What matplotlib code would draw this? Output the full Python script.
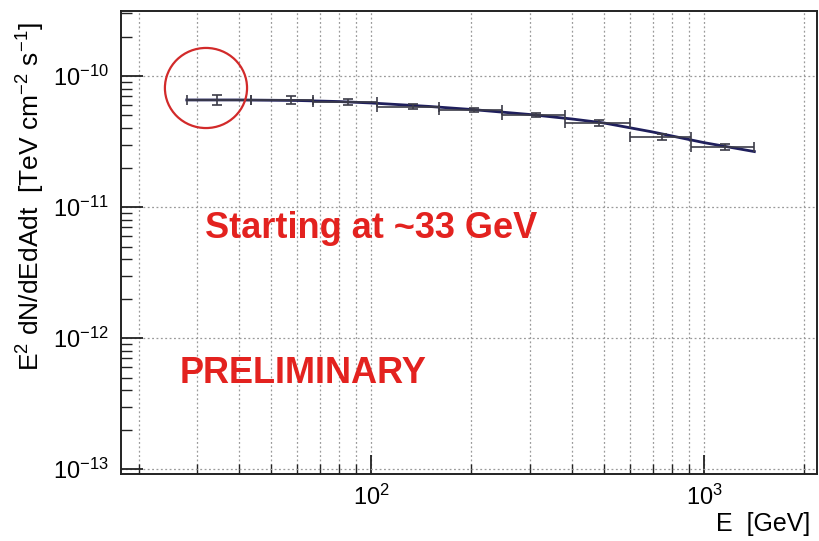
"""Preliminary SED of the source, E^2 dN/dE vs energy.

Binned flux points with energy-bin widths and the fitted
curved spectrum, log-log axes in ROOT-like style.

Output: out.png
"""

import matplotlib

matplotlib.use("Agg")
import matplotlib.pyplot as plt
from matplotlib.patches import Ellipse
from matplotlib.ticker import LogLocator, NullFormatter

# flux points [GeV], [TeV cm^-2 s^-1]
energy = [34.4, 57.4, 85.3, 133, 203, 313, 484, 748, 1156]
e_lo = [27.9, 43.5, 67, 104, 160, 247, 382, 598, 916]
e_hi = [43.5, 67, 104, 160, 247, 382, 598, 916, 1416]
flux = [6.56e-11, 6.60e-11, 6.37e-11, 5.83e-11, 5.50e-11,
        5.04e-11, 4.36e-11, 3.44e-11, 2.88e-11]
flux_rel_err = [0.09, 0.07, 0.05, 0.04, 0.04, 0.04, 0.05, 0.05, 0.06]

# fitted spectrum, sampled nodes
fit_e = [27.9, 40, 60, 80, 100, 150, 200, 300, 400, 500, 700, 1000, 1416]
fit_f = [6.56e-11, 6.56e-11, 6.50e-11, 6.38e-11, 6.22e-11, 5.85e-11,
         5.55e-11, 5.08e-11, 4.70e-11, 4.38e-11, 3.74e-11, 3.10e-11,
         2.65e-11]

XLIM = (17.7, 2184)
YLIM = (9.2e-14, 3.13e-10)
RED = "#e3221f"


def main() -> None:
    plt.rcParams["font.family"] = ["Liberation Sans", "DejaVu Sans"]
    plt.rcParams["mathtext.fontset"] = "custom"
    plt.rcParams["mathtext.rm"] = "Liberation Sans"
    plt.rcParams["mathtext.it"] = "Liberation Sans:italic"
    plt.rcParams["mathtext.bf"] = "Liberation Sans:bold"

    fig = plt.figure(figsize=(8.19, 5.41), dpi=100)
    ax = fig.add_axes([121 / 819, 1 - 474 / 541, 696 / 819, 463 / 541])

    ax.set_xscale("log")
    ax.set_yscale("log")
    ax.set_xlim(*XLIM)
    ax.set_ylim(*YLIM)

    xerr = [[e - lo for e, lo in zip(energy, e_lo)],
            [hi - e for e, hi in zip(energy, e_hi)]]
    yerr = [f * r for f, r in zip(flux, flux_rel_err)]

    ax.plot(fit_e, fit_f, color="#1f1f5c", lw=2.0, zorder=3)
    ax.errorbar(energy, flux, xerr=xerr, yerr=yerr, fmt="none",
                ecolor="#3c3c48", elinewidth=1.2, capsize=3.5,
                capthick=1.2, zorder=4)

    # ticks, grid
    ax.xaxis.set_major_locator(LogLocator(base=10, numticks=10))
    ax.xaxis.set_minor_locator(LogLocator(base=10, subs=range(2, 10)))
    ax.yaxis.set_minor_locator(LogLocator(base=10, subs=range(2, 10)))
    ax.xaxis.set_minor_formatter(NullFormatter())
    ax.yaxis.set_minor_formatter(NullFormatter())
    ax.tick_params(axis="both", which="both", direction="in",
                   top=False, right=False, color="#222222",
                   labelsize=17)
    ax.tick_params(axis="y", which="major", length=16, width=1.3, pad=9)
    ax.tick_params(axis="y", which="minor", length=8, width=1.0)
    ax.tick_params(axis="x", which="major", length=14, width=1.3, pad=8)
    ax.tick_params(axis="x", which="minor", length=7, width=1.0)

    grid = dict(color="#9a9a9a", lw=0.9, ls=(0, (1.5, 2.0)))
    ax.grid(True, which="both", axis="x", **grid)
    ax.grid(True, which="major", axis="y", **grid)
    ax.set_axisbelow(True)

    for s in ax.spines.values():
        s.set_linewidth(1.4)
        s.set_color("#222222")

    fig.text(31 / 819, 1 - 22 / 541,
             r"E$^{2}$ dN/dEdAdt  [TeV cm$^{-2}$ s$^{-1}$]",
             rotation=90, ha="center", va="top", fontsize=19)
    fig.text(810 / 819, 1 - 524 / 541, "E  [GeV]",
             ha="right", va="center", fontsize=18)

    # annotations
    ax.add_patch(Ellipse((0.1221, 0.8337), 0.118, 0.173,
                         transform=ax.transAxes, fill=False,
                         ec="#d22a2a", lw=1.6, zorder=5))
    ax.text(0.1207, 0.5313, "Starting at ~33 GeV", transform=ax.transAxes,
            color=RED, fontsize=26, fontweight="bold", va="center")
    ax.text(0.0848, 0.216, "PRELIMINARY", transform=ax.transAxes,
            color=RED, fontsize=26, fontweight="bold", va="center")

    fig.savefig("out.png", dpi=100, facecolor="white")


if __name__ == "__main__":
    main()
